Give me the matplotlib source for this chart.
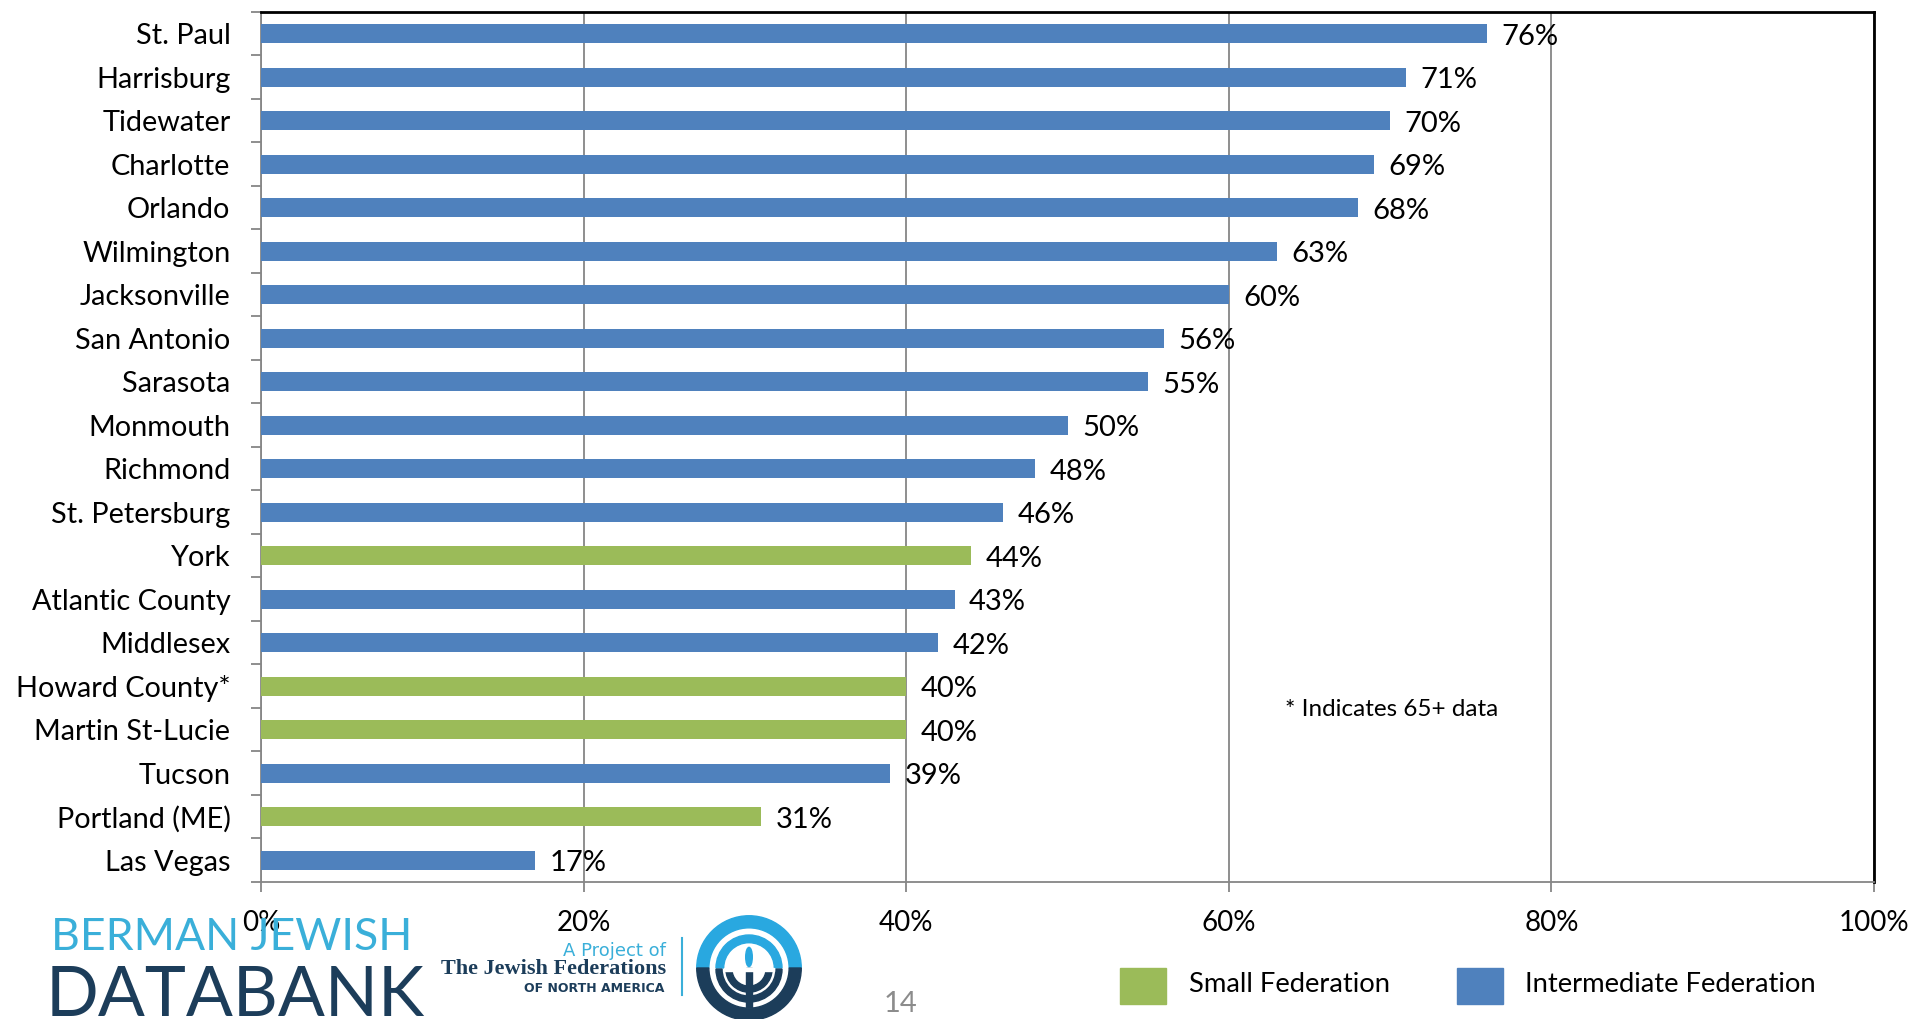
import matplotlib
matplotlib.use("Agg")
import matplotlib.pyplot as plt
from matplotlib.patches import Wedge, Rectangle, Ellipse
from matplotlib.ticker import FixedLocator, FuncFormatter

categories = ["St. Paul", "Harrisburg", "Tidewater", "Charlotte", "Orlando", "Wilmington",
              "Jacksonville", "San Antonio", "Sarasota", "Monmouth", "Richmond", "St. Petersburg",
              "York", "Atlantic County", "Middlesex", "Howard County*", "Martin St-Lucie",
              "Tucson", "Portland (ME)", "Las Vegas"]
values = [76, 71, 70, 69, 68, 63, 60, 56, 55, 50, 48, 46, 44, 43, 42, 40, 40, 39, 31, 17]
groups = ["I", "I", "I", "I", "I", "I", "I", "I", "I", "I", "I", "I",
          "S", "I", "I", "S", "S", "I", "S", "I"]
group_names = {"S": "Small Federation", "I": "Intermediate Federation"}
x_ticks = [0, 20, 40, 60, 80, 100]

BLUE = "#4F81BD"
GREEN = "#9BBB59"
GRID = "#868686"
colors = {"S": GREEN, "I": BLUE}
FONT = "Lato"

W, H = 1915, 1019
fig = plt.figure(figsize=(W / 100, H / 100), dpi=100)

def fx(x):
    return x / W

def fy(y):
    return 1 - y / H

ax = fig.add_axes([fx(261), fy(882), fx(1874) - fx(261), fy(12) - fy(882)])
n = len(categories)
ypos = list(range(n))
ax.barh(ypos, values, height=0.44, color=[colors[g] for g in groups], zorder=3)
ax.set_xlim(0, 100)
ax.set_ylim(n - 0.5, -0.5)

ax.xaxis.set_major_locator(FixedLocator(x_ticks))
ax.xaxis.set_major_formatter(FuncFormatter(lambda v, p: f"{int(v)}%"))
ax.grid(axis="x", color=GRID, linewidth=1.3, zorder=0)
ax.tick_params(axis="x", length=7, width=1.3, color=GRID, pad=13, labelsize=20)

ax.set_yticks(ypos)
ax.set_yticklabels(categories)
ax.set_yticks([i - 0.5 for i in range(n + 1)], minor=True)
ax.tick_params(axis="y", which="major", length=0, pad=22, labelsize=20.8)
ax.tick_params(axis="y", which="minor", length=7, width=1.3, color=GRID)
for lab in ax.get_xticklabels() + ax.get_yticklabels():
    lab.set_fontfamily(FONT)

for s in ["left", "bottom"]:
    ax.spines[s].set_color(GRID)
    ax.spines[s].set_linewidth(1.3)
for s in ["top", "right"]:
    ax.spines[s].set_color("black")
    ax.spines[s].set_linewidth(2)

for i, v in enumerate(values):
    ax.text(v + 0.9, i + 0.07, f"{v}%", va="center", ha="left", fontsize=21,
            family=FONT, color="black", zorder=4)

fig.text(fx(1285), fy(710), "* Indicates 65+ data", fontsize=17.5, family=FONT,
         va="center", ha="left")

# legend
for (x0, key, tx) in [(1120, "S", 1189), (1457, "I", 1525)]:
    fig.patches.append(Rectangle((fx(x0), fy(1004)), fx(46), fy(968) - fy(1004),
                                 transform=fig.transFigure, color=colors[key]))
    fig.text(fx(tx), fy(984), group_names[key], fontsize=19.7, family=FONT,
             va="center", ha="left")

# page number
fig.text(fx(901), fy(1004), "14", fontsize=21, family=FONT, color="#8C8C8C",
         va="center", ha="center")

# Berman Jewish DataBank logo
fig.text(fx(51), fy(937), "BERMAN JEWISH", fontsize=32, family=FONT, fontweight="normal",
         color="#3AAFD9", va="center", ha="left")
fig.text(fx(46), fy(997), "DATABANK", fontsize=50, family=FONT, fontweight="normal",
         color="#1C3D5A", va="center", ha="left")

# JFNA text
fig.text(fx(666), fy(951), "A Project of", fontsize=13, family="DejaVu Sans",
         color="#3AAFD9", va="center", ha="right")
fig.text(fx(666), fy(969), "The Jewish Federations", fontsize=16, family="Liberation Serif",
         fontweight="bold", color="#1C3D5A", va="center", ha="right")
fig.text(fx(664), fy(988), "OF NORTH AMERICA", fontsize=9, family="DejaVu Sans",
         fontweight="bold", color="#1C3D5A", va="center", ha="right")
fig.add_artist(plt.Line2D([fx(682), fx(682)], [fy(995), fy(938)], color="#3AAFD9",
                          linewidth=1.5, transform=fig.transFigure))

# circular emblem
lax = fig.add_axes([fx(694), fy(1023), fx(110), fy(913) - fy(1023)])
lax.set_xlim(-1, 1)
lax.set_ylim(-1, 1)
lax.set_aspect("equal")
lax.axis("off")
LB, NV = "#29A8E0", "#1C3D5A"
lax.add_patch(Wedge((0, 0), 0.95, 0, 180, width=0.22, color=LB))
lax.add_patch(Wedge((0, 0), 0.95, 180, 360, width=0.22, color=NV))
lax.add_patch(Wedge((0, 0), 0.6, 0, 180, width=0.14, color=LB))
for r in [0.6, 0.42]:
    lax.add_patch(Wedge((0, -0.02), r, 180, 360, width=0.11, color=NV))
lax.add_patch(Rectangle((-0.05, -0.7), 0.1, 0.7, color=NV))
lax.add_patch(Rectangle((-0.45, -0.06), 0.9, 0.06, color="white"))
lax.add_patch(Ellipse((0, 0.2), 0.12, 0.35, color=LB))

fig.savefig("out.png", dpi=100)
